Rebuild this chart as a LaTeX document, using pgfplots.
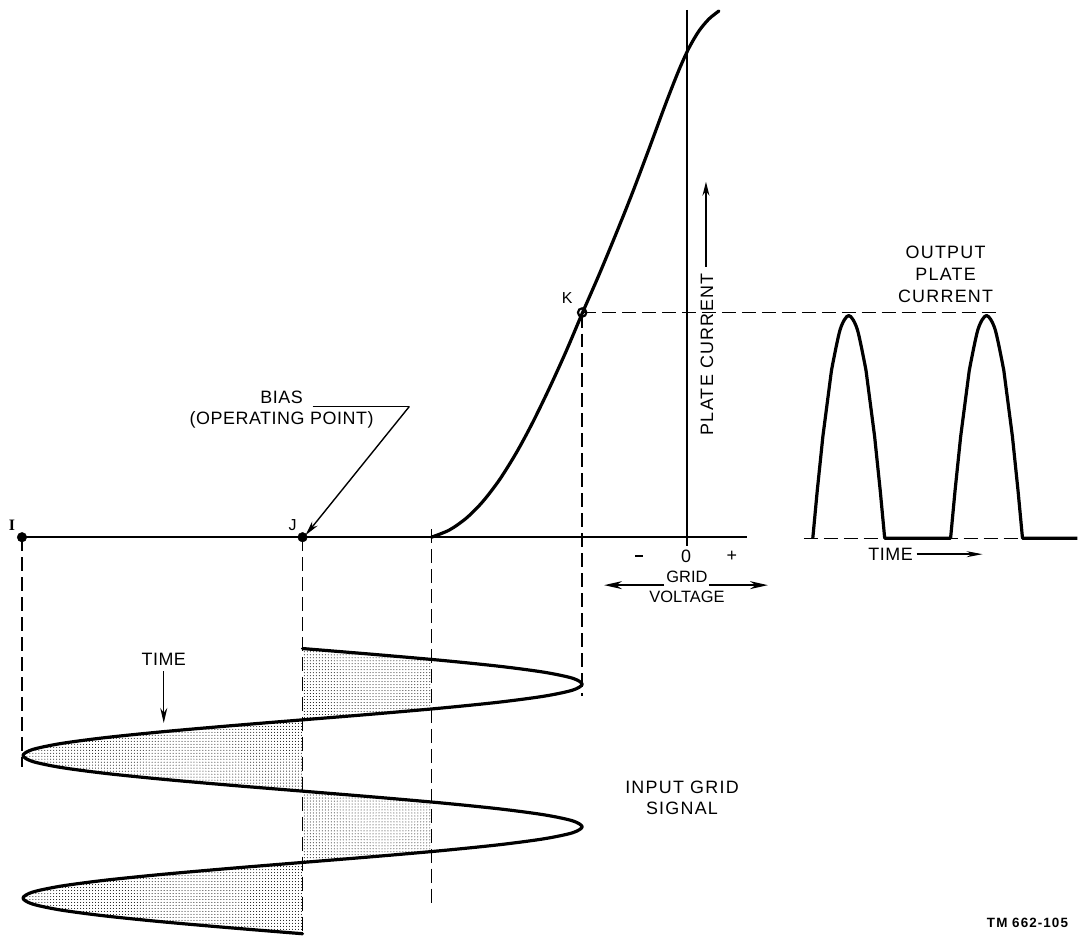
\documentclass[border=0pt]{standalone}
\usepackage{pgfplots}
\pgfplotsset{compat=1.18}
\usetikzlibrary{patterns,arrows.meta}
\usepackage{fontspec}
\setmainfont{Liberation Sans}
\newfontfamily\labO{Liberation Sans}
\newfontfamily\labS{Liberation Serif}
\newfontfamily\labA[LetterSpace=3]{Liberation Sans}
\newfontfamily\labB[LetterSpace=7]{Liberation Sans}
\newfontfamily\labT[LetterSpace=8]{Liberation Sans}
\tikzset{lbl/.style={font=\labA\fontsize{18}{21}\selectfont,inner sep=0pt},
  lbw/.style={font=\labB\fontsize{18}{21}\selectfont,inner sep=0pt},
  lbg/.style={font=\labO\fontsize{16.5}{20}\selectfont,inner sep=0pt},
  lbs/.style={font=\labA\fontsize{16}{18}\selectfont,inner sep=0pt}}
\begin{document}
\begin{tikzpicture}
\begin{axis}[width=1079bp,height=935bp,scale only axis,
  xmin=0,xmax=1079,ymin=0,ymax=935,y dir=reverse,hide axis,clip=false,
  dsh/.style={line width=1.3bp,dash pattern=on 14bp off 6bp},
  thk/.style={line width=3.2bp,line join=round,line cap=round},
  thn/.style={line width=1.4bp}]
% invisible frame for bounding box
\addplot[draw=none] coordinates {(0,0) (1079,935)};
% stippled areas of the input signal
\addplot[draw=none,pattern=dots] coordinates {(303,649.5) (375.5,655.45) (432,660.4) (432,710.0) (375.5,714.95) (303,720.9)};
\addplot[draw=none,pattern=dots] coordinates {(303,720.9) (230.5,726.85) (163,732.8) (105,738.75) (60.5,744.7) (32.5,750.65) (23,756.6) (32.5,762.55) (60.5,768.5) (105,774.45) (163,780.4) (230.5,786.35) (303,792.3)};
\addplot[draw=none,pattern=dots] coordinates {(303,792.3) (375.5,798.25) (432,803.2) (432,852.8) (375.5,857.75) (303,863.7)};
\addplot[draw=none,pattern=dots] coordinates {(303,863.7) (230.5,869.65) (163,875.6) (105,881.55) (60.5,887.5) (32.5,893.45) (23,899.4) (32.5,905.35) (60.5,911.3) (105,917.25) (163,923.2) (230.5,929.15) (303,935.1)};
% dashed projection lines
\addplot[dsh] coordinates {(22,538) (22,768)};
\addplot[dsh] coordinates {(303,538) (303,935)};
\addplot[dsh] coordinates {(432,530) (432,907)};
\addplot[dsh] coordinates {(583,314) (583,697)};
\addplot[dsh] coordinates {(583,313) (1003,313)};
\addplot[dsh] coordinates {(805,539) (1079,539)};
% axes of the characteristic
\addplot[line width=2bp] coordinates {(22,538) (748,538)};
\addplot[thn] coordinates {(688,10) (688,547)};
% transfer characteristic
\addplot[thk,smooth] coordinates {(432,538) (450,530.8) (467,518.9) (483,502.9) (500,480.8) (517,453.6) (533,424) (550,389.1) (567,351.7) (583,314) (600,275) (617,234) (633,194) (650,149) (667,103) (680,70) (690,48) (700,31) (710,19) (720,11)};
% input grid signal
\addplot[thk,smooth] coordinates {
(303,649.5) (375.5,655.45) (443,661.4) (501,667.35) (545.5,673.3) (573.5,679.25) (583,685.2) (573.5,691.15) (545.5,697.1) (501,703.05) (443,709.0) (375.5,714.95)
(303,720.9) (230.5,726.85) (163,732.8) (105,738.75) (60.5,744.7) (32.5,750.65) (23,756.6) (32.5,762.55) (60.5,768.5) (105,774.45) (163,780.4) (230.5,786.35)
(303,792.3) (375.5,798.25) (443,804.2) (501,810.15) (545.5,816.1) (573.5,822.05) (583,828.0) (573.5,833.95) (545.5,839.9) (501,845.85) (443,851.8) (375.5,857.75)
(303,863.7) (230.5,869.65) (163,875.6) (105,881.55) (60.5,887.5) (32.5,893.45) (23,899.4) (32.5,905.35) (60.5,911.3) (105,917.25) (163,923.2) (230.5,929.15) (303,935.1)};
% output plate current pulses
\addplot[thk,line cap=butt] coordinates {(814,539) (818.4,492) (824.1,437) (832.7,371)};
\addplot[thk,smooth] coordinates {(832.7,371) (841.4,330) (850,316) (858.6,330) (867.3,371)};
\addplot[thk,line cap=butt] coordinates {(867.3,371) (875.9,437) (881.6,492) (886,539) (952,539) (956.4,492) (962.1,437) (970.7,371)};
\addplot[thk,smooth] coordinates {(970.7,371) (979.4,330) (988,316) (996.6,330) (1005.3,371)};
\addplot[thk,line cap=butt] coordinates {(1005.3,371) (1013.9,437) (1019.6,492) (1024,539) (1079,539)};
% points I, J, K
\addplot[only marks,mark=*,mark size=4.8bp] coordinates {(22,538) (303,538)};
\addplot[only marks,mark=o,mark size=4.2bp,mark options={line width=2.2bp}] coordinates {(583,313)};
% arrows
\addplot[thn,-{Stealth[length=14bp,width=7bp]}] coordinates {(707,267) (707,182)};
\addplot[thn,-{Stealth[length=18bp,width=8bp]}] coordinates {(665,586) (605,586)};
\addplot[thn,-{Stealth[length=18bp,width=8bp]}] coordinates {(710,586) (769,586)};
\addplot[thn,-{Stealth[length=16bp,width=6bp]}] coordinates {(918,555) (984,555)};
\addplot[thn,-{Stealth[length=15bp,width=7bp]}] coordinates {(164,672) (164,724)};
\addplot[thn] coordinates {(313,407) (410,407)};
\addplot[thn,-{Stealth[length=15bp,width=7bp]}] coordinates {(410,407) (306,536)};
% labels
\node[font=\labS\fontsize{16}{18}\selectfont\bfseries,inner sep=0pt] at (axis cs:12,526) {I};
\node[lbs] at (axis cs:293,526) {J};
\node[lbs] at (axis cs:568,298) {K};
\node[lbl] at (axis cs:282,398) {BIAS};
\node[lbl] at (axis cs:282,420) {(OPERATING POINT)};
\node[lbw,rotate=90] at (axis cs:708,355) {PLATE CURRENT};
\node[inner sep=0pt] at (axis cs:640,557) {\rule{8bp}{2bp}};
\node[lbl] at (axis cs:687,557) {0};
\node[lbl] at (axis cs:733,557) {+};
\node[lbg] at (axis cs:688,578) {GRID};
\node[lbg] at (axis cs:688,598) {VOLTAGE};
\node[lbl] at (axis cs:892,555) {TIME};
\node[lbw] at (axis cs:947,253) {OUTPUT};
\node[lbw] at (axis cs:947,275) {PLATE};
\node[lbw] at (axis cs:947,297) {CURRENT};
\node[lbl] at (axis cs:164,660) {TIME};
\node[lbw] at (axis cs:683,788) {INPUT GRID};
\node[lbw] at (axis cs:683,810) {SIGNAL};
\node[font={\labT\fontsize{13.5}{16}\selectfont\bfseries},inner sep=0pt] at (axis cs:1029,924) {TM 662-105};
\end{axis}
\end{tikzpicture}
\end{document}
